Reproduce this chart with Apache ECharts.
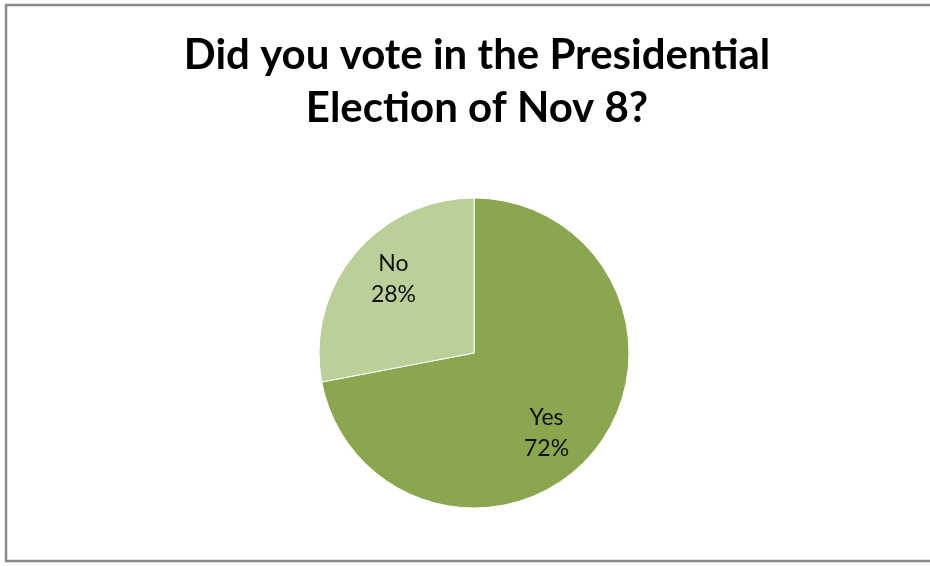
<!DOCTYPE html>
<html>
<head>
<meta charset="utf-8">
<script src="https://cdn.jsdelivr.net/npm/echarts@6/dist/echarts.min.js"></script>
<style>
  html, body { margin: 0; padding: 0; background: #fff; overflow: hidden; }
  #chart { width: 930px; height: 566px; }
</style>
</head>
<body>
<div id="chart"></div>
<script>
// Survey answers and their shares (percent)
const answers = ['Yes', 'No'];
const shares = [72, 28];
const sliceColors = ['#8aa64f', '#bbcf99'];

const titleText = 'Did you vote in the Presidential\nElection of Nov 8?';

const FONT = 'Lato, "Open Sans", sans-serif';
const center = [474, 353];
const outerRadius = 155;
// small nudges so each label sits where the slice text is placed
const labelNudge = [[-13, 9], [5, -3]];

const pieData = answers.map((name, i) => ({ name, value: shares[i] }));
const labelData = answers.map((name, i) => ({
  name,
  value: shares[i],
  label: { offset: labelNudge[i] }
}));

const chart = echarts.init(document.getElementById('chart'));
chart.setOption({
  backgroundColor: '#ffffff',
  animation: false,
  title: {
    text: titleText,
    left: 472,
    top: 24,
    textAlign: 'center',
    textStyle: {
      fontFamily: FONT,
      fontWeight: 'bold',
      fontSize: 42,
      lineHeight: 53,
      color: '#000'
    }
  },
  graphic: [{
    type: 'rect',
    shape: { x: 6, y: 5, width: 1000, height: 556 },
    style: { fill: 'none', stroke: '#8a8a8a', lineWidth: 2.5 },
    silent: true
  }],
  series: [
    {
      // filled slices
      type: 'pie',
      center: center,
      radius: [0, outerRadius],
      startAngle: 90,
      clockwise: true,
      silent: true,
      label: { show: false },
      labelLine: { show: false },
      itemStyle: {
        color: p => sliceColors[p.dataIndex],
        borderColor: '#ffffff',
        borderWidth: 1
      },
      data: pieData
    },
    {
      // transparent ring that carries the category/percent labels
      type: 'pie',
      center: center,
      radius: [61, outerRadius],
      startAngle: 90,
      clockwise: true,
      silent: true,
      itemStyle: { color: 'rgba(0,0,0,0)' },
      label: {
        show: true,
        position: 'inside',
        formatter: p => p.name + '\n' + p.value + '%',
        fontFamily: FONT,
        fontSize: 23,
        lineHeight: 31,
        color: '#111'
      },
      labelLine: { show: false },
      data: labelData
    }
  ]
});
</script>
</body>
</html>
